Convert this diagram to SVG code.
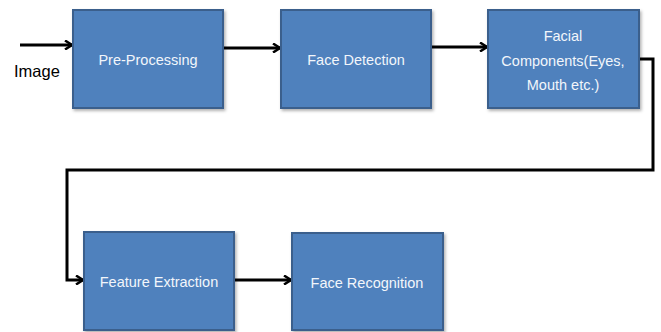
<svg xmlns="http://www.w3.org/2000/svg" width="661" height="332" viewBox="0 0 661 332">
<defs>
<marker id="ah" markerWidth="10" markerHeight="10" refX="8" refY="5" orient="auto" markerUnits="userSpaceOnUse">
<path d="M1,0.5 L8,5 L1,9.5" fill="none" stroke="#000" stroke-width="2.5"/>
</marker>
<filter id="sh" x="-10%" y="-10%" width="125%" height="125%">
<feDropShadow dx="1.5" dy="2" stdDeviation="1.5" flood-color="#000" flood-opacity="0.3"/>
</filter>
</defs>
<style>
.box{fill:#4f81bd;stroke:#3a5f8c;stroke-width:2;filter:url(#sh)}
.t{fill:#f2f6fb;font-family:"Liberation Sans",Arial,sans-serif;font-size:14.5px;text-anchor:middle}
.c{fill:none;stroke:#000;stroke-width:3;marker-end:url(#ah)}
.lbl{fill:#000;font-family:"Liberation Sans",Arial,sans-serif;font-size:16.5px}
</style>
<rect width="661" height="332" fill="#fff"/>
<g id="connectors">
<path class="c" d="M20,45 L72,45"/>
<path class="c" d="M224,48 L280,48"/>
<path class="c" d="M432,47 L487,47"/>
<path class="c" d="M640,59 L653,59 L653,170 L67,170 L67,280 L83,280"/>
<path class="c" d="M235,280 L291,280"/>
</g>
<text class="lbl" x="14" y="77">Image</text>
<g id="pre-processing">
<rect class="box" x="73" y="10" width="150" height="98"/>
<text class="t" x="148" y="65">Pre-Processing</text>
</g>
<g id="face-detection">
<rect class="box" x="281" y="10" width="150" height="98"/>
<text class="t" x="356" y="65">Face Detection</text>
</g>
<g id="facial-components">
<rect class="box" x="488" y="10" width="151" height="98"/>
<text class="t" x="563" y="41">Facial</text>
<text class="t" x="563" y="66">Components(Eyes,</text>
<text class="t" x="563" y="90">Mouth etc.)</text>
</g>
<g id="feature-extraction">
<rect class="box" x="84" y="232" width="150" height="98"/>
<text class="t" x="159" y="287">Feature Extraction</text>
</g>
<g id="face-recognition">
<rect class="box" x="292" y="233" width="151" height="97"/>
<text class="t" x="367" y="288">Face Recognition</text>
</g>
</svg>
